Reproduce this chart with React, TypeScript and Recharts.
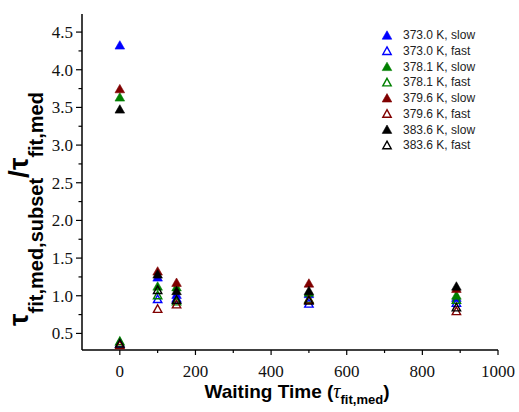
import React from "react";
import { ScatterChart, Scatter, XAxis, YAxis, Legend, Label } from "recharts";

// waiting times (in units of tau_fit,med)
const WAIT_TIMES = [0, 100, 150, 500, 890];

// tau_fit,med,subset / tau_fit,med for each temperature and subset
const T373_SLOW = [4.33, 1.25, 1.02, 1.03, 0.98];
const T373_FAST = [0.37, 0.96, 0.97, 0.9, 0.91];
const T378_SLOW = [3.64, 1.13, 1.12, 1.05, 1.01];
const T378_FAST = [0.4, 1.01, 0.93, 0.96, 0.95];
const T379_SLOW = [3.75, 1.33, 1.18, 1.17, 1.1];
const T379_FAST = [0.35, 0.83, 0.89, 0.95, 0.8];
const T383_SLOW = [3.48, 1.29, 1.07, 1.07, 1.13];
const T383_FAST = [0.37, 1.08, 0.95, 0.94, 0.85];

const X_TICKS = [0, 100, 200, 300, 400, 500, 600, 700, 800, 900, 1000];
const Y_TICKS = [0.5, 0.75, 1, 1.25, 1.5, 1.75, 2, 2.25, 2.5, 2.75, 3, 3.25, 3.5, 3.75, 4, 4.25, 4.5];

const BLUE = "#0000ff";
const GREEN = "#008000";
const WINE = "#800000";
const BLACK = "#000000";

const SERIES = [
  { name: "373.0 K, slow", color: BLUE, filled: true, values: T373_SLOW },
  { name: "373.0 K, fast", color: BLUE, filled: false, values: T373_FAST },
  { name: "378.1 K, slow", color: GREEN, filled: true, values: T378_SLOW },
  { name: "378.1 K, fast", color: GREEN, filled: false, values: T378_FAST },
  { name: "379.6 K, slow", color: WINE, filled: true, values: T379_SLOW },
  { name: "379.6 K, fast", color: WINE, filled: false, values: T379_FAST },
  { name: "383.6 K, slow", color: BLACK, filled: true, values: T383_SLOW },
  { name: "383.6 K, fast", color: BLACK, filled: false, values: T383_FAST },
];

const X_DOMAIN = [-100, 1000];
const Y_DOMAIN = [0.28, 4.74];

const SANS = "Liberation Sans, Arial, sans-serif";
const SERIF = "Liberation Serif, Times New Roman, serif";
const AXIS_W = 1.5;

function Tri({ cx, cy, color, filled }: { cx: number; cy: number; color: string; filled: boolean }) {
  if (cx == null || cy == null) return null;
  const w = filled ? 4.8 : 4.2;
  const h = filled ? 4.2 : 3.8;
  const pts = `${cx},${cy - h} ${cx + w},${cy + h} ${cx - w},${cy + h}`;
  return filled ? (
    <polygon points={pts} fill={color} stroke={color} strokeWidth={0.6} />
  ) : (
    <polygon points={pts} fill="none" stroke={color} strokeWidth={1.4} />
  );
}

const isMajorX = (v: number) => v % 200 === 0;
const isMajorY = (v: number) => Math.abs(v * 2 - Math.round(v * 2)) < 1e-6;

const tickText = { fontFamily: SERIF, fontSize: 17 };

// tickSize/tickMargin are 0 on every axis, so x/y below sit on the axis line
function BottomTick({ x, y, payload }: any) {
  const major = isMajorX(payload.value);
  return (
    <g>
      <line x1={x} x2={x} y1={y} y2={y + (major ? 5 : 3)} stroke="#000" strokeWidth={1.2} />
      {major && (
        <text x={x} y={y + 27} textAnchor="middle" style={tickText} fill="#111">
          {payload.value}
        </text>
      )}
    </g>
  );
}

function LeftTick({ x, y, payload }: any) {
  const major = isMajorY(payload.value);
  return (
    <g>
      <line x1={x} x2={x - (major ? 6 : 3.5)} y1={y} y2={y} stroke="#000" strokeWidth={1.2} />
      {major && (
        <text x={x - 9} y={y} dy="0.35em" textAnchor="end" style={tickText} fill="#111">
          {payload.value.toFixed(1)}
        </text>
      )}
    </g>
  );
}

function TopTick({ x, y, payload }: any) {
  const major = isMajorX(payload.value);
  return <line x1={x} x2={x} y1={y} y2={y + (major ? 5 : 3)} stroke="#000" strokeWidth={1.2} />;
}

function RightTick({ x, y, payload }: any) {
  const major = isMajorY(payload.value);
  return <line x1={x} x2={x - (major ? 6 : 3.5)} y1={y} y2={y} stroke="#000" strokeWidth={1.2} />;
}

function XTitle() {
  return (
    <text x={297} y={398} textAnchor="middle" style={{ fontFamily: SANS, fontWeight: "bold", fontSize: 19 }} fill="#000">
      Waiting Time (
      <tspan style={{ fontFamily: SERIF, fontStyle: "italic", fontWeight: "normal", fontSize: 20 }}>τ</tspan>
      <tspan style={{ fontSize: 13 }} dy={6}>fit,med</tspan>
      <tspan dy={-6}>)</tspan>
    </text>
  );
}

function YTitle() {
  const cx = 28;
  const cy = 209;
  return (
    <text
      x={cx}
      y={cy}
      transform={`rotate(-90, ${cx}, ${cy})`}
      textAnchor="middle"
      style={{ fontFamily: SANS, fontWeight: "bold", fontSize: 28 }}
      fill="#000"
    >
      τ
      <tspan style={{ fontSize: 20 }} dy={15}>fit,med,subset</tspan>
      <tspan dy={-15}>/τ</tspan>
      <tspan style={{ fontSize: 20 }} dy={15}>fit,med</tspan>
    </text>
  );
}

function LegendBox() {
  return (
    <svg width={130} height={130}>
      {SERIES.map((s, i) => {
        const cy = 8 + i * 15.7;
        return (
          <g key={s.name}>
            <Tri cx={8} cy={cy} color={s.color} filled={s.filled} />
            <text x={24} y={cy} dy="0.36em" style={{ fontFamily: SANS, fontSize: 12 }} fill="#222">
              {s.name}
            </text>
          </g>
        );
      })}
    </svg>
  );
}

export default function App() {
  return (
    <div style={{ position: "absolute", left: 0, top: 0, background: "#fff" }}>
      <ScatterChart width={519} height={412} margin={{ top: 14, right: 21, bottom: 22, left: 0 }}>
        <XAxis
          type="number"
          dataKey="x"
          domain={X_DOMAIN}
          ticks={X_TICKS}
          interval={0}
          allowDataOverflow
          height={40}
          tickSize={0}
          tickMargin={0}
          tickLine={false}
          tick={<BottomTick />}
          axisLine={{ stroke: "#000", strokeWidth: AXIS_W }}
        >
          <Label content={<XTitle />} />
        </XAxis>
        <XAxis
          xAxisId="top"
          orientation="top"
          type="number"
          domain={X_DOMAIN}
          ticks={X_TICKS}
          interval={0}
          allowDataOverflow
          height={0}
          tickSize={0}
          tickMargin={0}
          tickLine={false}
          tick={<TopTick />}
          axisLine={{ stroke: "#000", strokeWidth: AXIS_W }}
        />
        <YAxis
          type="number"
          dataKey="y"
          domain={Y_DOMAIN}
          ticks={Y_TICKS}
          interval={0}
          allowDataOverflow
          width={82}
          tickSize={0}
          tickMargin={0}
          tickLine={false}
          tick={<LeftTick />}
          axisLine={{ stroke: "#000", strokeWidth: AXIS_W }}
        >
          <Label content={<YTitle />} />
        </YAxis>
        <YAxis
          yAxisId="right"
          orientation="right"
          type="number"
          domain={Y_DOMAIN}
          ticks={Y_TICKS}
          interval={0}
          allowDataOverflow
          width={0}
          tickSize={0}
          tickMargin={0}
          tickLine={false}
          tick={<RightTick />}
          axisLine={{ stroke: "#000", strokeWidth: AXIS_W }}
        />
        <Legend
          layout="vertical"
          align="center"
          verticalAlign="middle"
          content={<LegendBox />}
          wrapperStyle={{ left: 379, top: 27, width: 130, height: 130 }}
        />
        {SERIES.map((s) => (
          <Scatter
            key={s.name}
            name={s.name}
            data={WAIT_TIMES.map((t, i) => ({ x: t, y: s.values[i] }))}
            fill={s.color}
            isAnimationActive={false}
            shape={(p: any) => <Tri cx={p.cx} cy={p.cy} color={s.color} filled={s.filled} />}
          />
        ))}
      </ScatterChart>
    </div>
  );
}
